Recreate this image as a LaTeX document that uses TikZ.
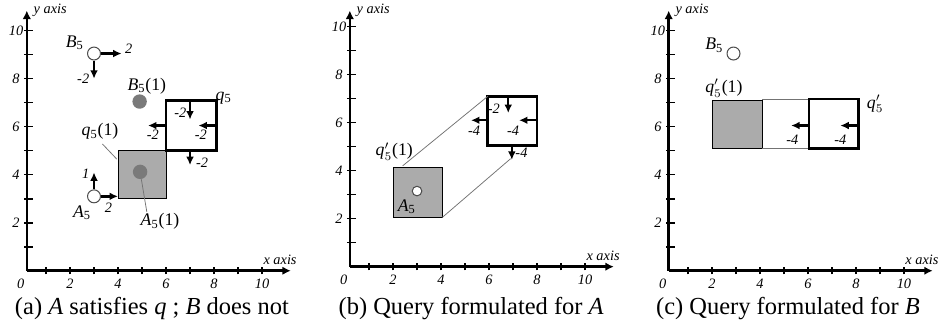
\documentclass[tikz,border=0pt]{standalone}
\usepackage{fontspec}
\setmainfont{Liberation Serif}
\usetikzlibrary{arrows.meta}
\definecolor{Region}{HTML}{ABABAB}
\definecolor{Hit}{HTML}{7A7A7A}
\newcommand{\obj}[1]{\textit{#1}\textsubscript{5}}
\newcommand{\qp}{\textit{q}$'_{5}$}

\begin{document}
\begin{tikzpicture}[x=0.5cm,y=0.5cm,
    axisline/.style={line width=1.5pt,-{Latex[length=5pt,width=5pt]}},
    tickline/.style={line width=0.9pt},
    motion/.style={line width=1.4pt,-{Latex[length=5pt,width=4.6pt]}},
    qbox/.style={draw,line width=1.6pt},
    region/.style={fill=Region},
    lead/.style={black!55,line width=0.45pt},
    obj/.style={circle,draw=black!70,fill=white,minimum size=0.27cm,inner sep=0pt,line width=0.6pt},
    objin/.style={circle,fill=Hit,minimum size=0.3cm,inner sep=0pt},
    lab/.style={font=\fontsize{10.5}{12}\selectfont,inner sep=1pt},
    numlab/.style={font=\fontsize{8.5}{10}\selectfont\itshape,inner sep=1pt},
    caption/.style={font=\fontsize{14.5}{17}\selectfont,inner sep=0pt}]
  \useasboundingbox (0,0) rectangle (39.08,13.54);

  \foreach \px/\py/\p in {0.917/2.26/a,14.375/2.43/b,27.66/2.26/c}{
    \pgfmathsetmacro{\ytop}{13.1-\py}
    \begin{scope}[shift={(\px,\py)}]
      \coordinate (\p o) at (0.2,0);
      \coordinate (\p ytop) at (0.2,\ytop);
      \coordinate (\p xend) at (11.2,0);
      \draw[axisline] (\p o) -- (\p ytop);
      \draw[axisline] (\p o) -- (\p xend);
      \foreach \t in {1,...,10}{
        \draw[tickline] (\t,-0.15) -- (\t,0.15);
        \draw[tickline] (0.1,\t) -- (0.45,\t);
      }
      \foreach \t in {2,4,...,10}{
        \node[numlab] (\p x\t) at (\t,-0.55) {\t};
        \node[numlab] (\p y\t) at (-0.25,\t) {\t};
      }
      \node[numlab] (\p x0) at (-0.05,-0.55) {0};
      \node[numlab,anchor=west] (\p ylab) at (0.4,\ytop) {y axis};
      \node[numlab] (\p xlab) at (10.75,0.45) {x axis};
    \end{scope}
  }

  \begin{scope}[shift={(0.917,2.26)}]
    \draw[region] (4,3) rectangle (6,5);
    \draw[qbox] (6,5) rectangle (8.1,7.1);
    \node[lab] (aq) at (8.4,7.2) {\textit{q}\textsubscript{5}};
    \node[obj] (aB) at (3,9.05) {};
    \node[lab] (aBl) at (2.2,9.5) {\obj{B}};
    \coordinate (aBe) at (4.15,9.05);
    \coordinate (aBs) at (3,8);
    \draw[motion] (aB) -- (aBe);
    \draw[motion] (aB) -- (aBs);
    \node[numlab] (aBel) at (4.45,9.25) {2};
    \node[numlab] (aBsl) at (2.55,8.0) {-2};
    \node[objin] (aB1) at (4.9,7.05) {};
    \node[lab] (aB1l) at (5.2,7.7) {\obj{B}(1)};
    \coordinate (aT) at (7,7.1);
    \coordinate (aTt) at (7,6.3);
    \coordinate (aR) at (8.1,6.05);
    \coordinate (aRt) at (7.35,6.05);
    \coordinate (aL) at (6,6.05);
    \coordinate (aLt) at (5.25,6.05);
    \coordinate (aD) at (7,5);
    \coordinate (aDt) at (7,4.4);
    \draw[motion] (aT) -- (aTt);
    \draw[motion] (aR) -- (aRt);
    \draw[motion] (aL) -- (aLt);
    \draw[motion] (aD) -- (aDt);
    \node[numlab] (aTl) at (6.6,6.6) {-2};
    \node[numlab] (aRl) at (7.45,5.65) {-2};
    \node[numlab] (aLl) at (5.45,5.65) {-2};
    \node[numlab] (aDl) at (7.5,4.5) {-2};
    \node[lab] (aq1) at (3.25,5.8) {\textit{q}\textsubscript{5}(1)};
    \coordinate (aq1e) at (3.95,4.65);
    \draw[lead] (aq1.south) ++(0.1,-0.1) -- (aq1e);
    \node[objin] (aA1) at (4.92,4.12) {};
    \node[lab] (aA1l) at (5.75,2.05) {\obj{A}(1)};
    \coordinate (aA1e) at (5.2,2.45);
    \draw[lead] (aA1) -- (aA1e);
    \node[obj] (aA) at (3,3.1) {};
    \node[lab] (aAl) at (2.5,2.42) {\obj{A}};
    \coordinate (aAn) at (3,4.1);
    \coordinate (aAe) at (4,3.1);
    \draw[motion] (aA) -- (aAn);
    \draw[motion] (aA) -- (aAe);
    \node[numlab] (aAnl) at (2.65,4.05) {1};
    \node[numlab] (aAel) at (3.6,2.62) {2};
  \end{scope}

  \begin{scope}[shift={(14.375,2.43)}]
    \draw[region] (2,2.05) rectangle (4.05,4.15);
    \draw[qbox] (5.95,5.05) rectangle (8,7.1);
    \node[obj,minimum size=0.2cm] (bA) at (3,3.15) {};
    \node[lab] (bAl) at (2.57,2.5) {\obj{A}};
    \node[lab] (bq1) at (2.05,4.8) {\qp(1)};
    \coordinate (bU) at (2.4,4.2);
    \coordinate (bUe) at (5.95,7.1);
    \coordinate (bW) at (4.05,2.05);
    \coordinate (bWe) at (6.9,4.5);
    \draw[lead] (bU) -- (bUe);
    \draw[lead] (bW) -- (bWe);
    \coordinate (bT) at (6.8,7.1);
    \coordinate (bTt) at (6.8,6.4);
    \coordinate (bR) at (8,6.1);
    \coordinate (bRt) at (7.25,6.1);
    \coordinate (bL) at (5.95,6.1);
    \coordinate (bLt) at (5.25,6.1);
    \coordinate (bD) at (6.95,5.05);
    \coordinate (bDt) at (6.95,4.45);
    \draw[motion] (bT) -- (bTt);
    \draw[motion] (bR) -- (bRt);
    \draw[motion] (bL) -- (bLt);
    \draw[motion] (bD) -- (bDt);
    \node[numlab] (bTl) at (6.2,6.6) {-2};
    \node[numlab] (bRl) at (7.0,5.68) {-4};
    \node[numlab] (bLl) at (5.38,5.68) {-4};
    \node[numlab] (bDl) at (7.35,4.75) {-4};
  \end{scope}

  \begin{scope}[shift={(27.66,2.26)}]
    \draw[region] (2,5.1) rectangle (4.1,7.12);
    \coordinate (cU) at (4.1,7.12);
    \coordinate (cW) at (4.1,5.1);
    \coordinate (cUe) at (6.05,7.12);
    \coordinate (cWe) at (6.05,5.1);
    \draw[lead] (cU) -- (cUe);
    \draw[lead] (cW) -- (cWe);
    \draw[qbox] (6.05,5.1) rectangle (8.1,7.15);
    \node[obj] (cB) at (2.9,9.05) {};
    \node[lab] (cBl) at (2.1,9.4) {\obj{B}};
    \node[lab] (cq1) at (2.5,7.6) {\qp(1)};
    \node[lab] (cq) at (8.8,6.95) {\qp};
    \coordinate (cL) at (6.05,6.05);
    \coordinate (cLt) at (5.3,6.05);
    \coordinate (cR) at (8.1,6.05);
    \coordinate (cRt) at (7.35,6.05);
    \draw[motion] (cL) -- (cLt);
    \draw[motion] (cR) -- (cRt);
    \node[numlab] (cLl) at (5.35,5.45) {-4};
    \node[numlab] (cRl) at (7.35,5.45) {-4};
  \end{scope}

  \node[caption] (capa) at (6.33,0.68) {(a) \textit{A} satisfies \textit{q} ; \textit{B} does not};
  \node[caption] (capb) at (19.63,0.68) {(b) Query formulated for \textit{A}};
  \node[caption] (capc) at (32.83,0.68) {(c) Query formulated for \textit{B}};
\end{tikzpicture}
\end{document}
